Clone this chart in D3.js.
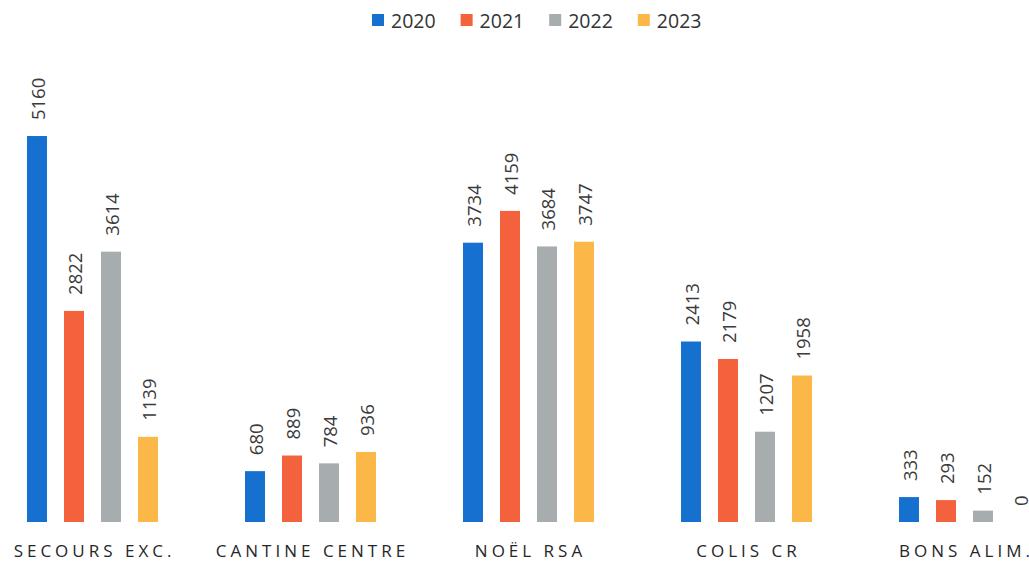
<!DOCTYPE html>
<html>
<head>
<meta charset="utf-8">
<script src="https://cdn.jsdelivr.net/npm/d3@7"></script>
<style>
  html, body { margin: 0; padding: 0; background: #fff; }
  svg { display: block; }
</style>
</head>
<body>
<svg id="chart" width="1029" height="562"></svg>
<script>
// Aides distribuées par dispositif et par année
const categories = ["SECOURS EXC.", "CANTINE CENTRE", "NOËL RSA", "COLIS CR", "BONS ALIM."];
const years = ["2020", "2021", "2022", "2023"];
const values2020 = [5160, 680, 3734, 2413, 333];
const values2021 = [2822, 889, 4159, 2179, 293];
const values2022 = [3614, 784, 3684, 1207, 152];
const values2023 = [1139, 936, 3747, 1958, 0];
const colors = ["#1570d0", "#f4623d", "#a7acae", "#fbb848"];

const seriesValues = [values2020, values2021, values2022, values2023];
const rows = categories.map((c, i) => ({
  category: c,
  items: years.map((y, j) => ({ year: y, value: seriesValues[j][i], color: colors[j] }))
}));

const svg = d3.select("#chart");
const font = "'Open Sans', 'Liberation Sans', sans-serif";

const x0 = d3.scaleBand().domain(categories).range([-16.5, 1073.5]).padding(0);
const x1 = d3.scaleBand().domain(years)
  .range([x0.bandwidth() / 2 - 65.5, x0.bandwidth() / 2 + 65.5])
  .paddingInner(17 / 37).paddingOuter(0);
const y = d3.scaleLinear().domain([0, 6000]).range([522, 73.2]);

// Bars
const groups = svg.append("g").selectAll("g")
  .data(rows).join("g")
  .attr("transform", d => `translate(${x0(d.category)},0)`);

groups.selectAll("rect")
  .data(d => d.items).join("rect")
  .attr("x", d => x1(d.year))
  .attr("y", d => y(d.value))
  .attr("width", x1.bandwidth())
  .attr("height", d => y(0) - y(d.value))
  .attr("fill", d => d.color);

// Value labels, vertical above each bar
groups.selectAll("text.val")
  .data(d => d.items).join("text")
  .attr("class", "val")
  .attr("transform", d => `translate(${x1(d.year) + x1.bandwidth() / 2},${y(d.value) - 16}) rotate(-90)`)
  .attr("dominant-baseline", "central")
  .attr("text-anchor", "start")
  .attr("font-family", font)
  .attr("font-size", 18.5)
  .attr("fill", "#3a3a3a")
  .text(d => d.value);

// Category axis labels
const xAxis = d3.axisBottom(x0).tickSize(0).tickPadding(0);
const axisG = svg.append("g").attr("transform", "translate(0,522)").call(xAxis);
axisG.select(".domain").remove();
axisG.selectAll(".tick text")
  .attr("y", 35)
  .attr("dy", 0)
  .attr("dx", 2)
  .attr("font-family", font)
  .attr("font-size", 17)
  .attr("letter-spacing", "4px")
  .attr("fill", "#262626");

// Legend
const legend = svg.append("g").attr("transform", "translate(372,20)");
let lx = 0;
years.forEach((yr, j) => {
  const g = legend.append("g").attr("transform", `translate(${lx},0)`);
  g.append("rect").attr("x", 0).attr("y", -6).attr("width", 12).attr("height", 12).attr("fill", colors[j]);
  const t = g.append("text")
    .attr("x", 19).attr("y", 0)
    .attr("dominant-baseline", "central")
    .attr("font-family", font)
    .attr("font-size", 19.5)
    .attr("fill", "#333333")
    .text(yr);
  lx += 19 + t.node().getComputedTextLength() + 25;
});
</script>
</body>
</html>
